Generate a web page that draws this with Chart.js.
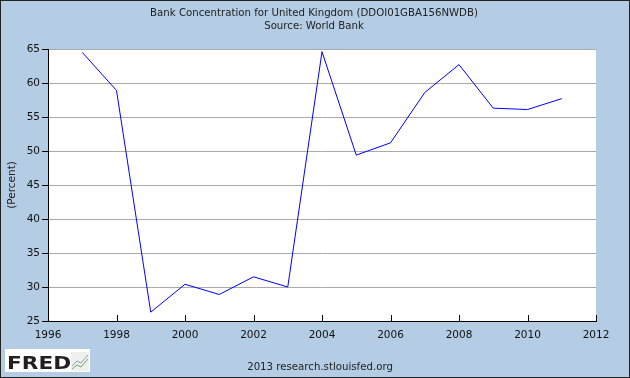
<!DOCTYPE html>
<html>
<head>
<meta charset="utf-8">
<script src="https://cdn.jsdelivr.net/npm/chart.js@4.4.0/dist/chart.umd.min.js"></script>
<style>
	html, body { margin: 0; padding: 0; background: #b4cce4; }
	#wrap { width: 630px; height: 378px; position: relative; }
</style>
</head>
<body>
<div id="wrap"><canvas id="fred"></canvas></div>
<script>
const years = [1997, 1998, 1999, 2000, 2001, 2002, 2003, 2004, 2005, 2006, 2007, 2008, 2009, 2010, 2011];
const concentration = [64.5, 58.9, 26.3, 30.4, 28.9, 31.5, 30.0, 64.6, 49.4, 51.2, 58.6, 62.7, 56.3, 56.1, 57.7];
const xTicks = [1996, 1998, 2000, 2002, 2004, 2006, 2008, 2010, 2012];
const yTicks = [25, 30, 35, 40, 45, 50, 55, 60, 65];

const titleLines = ['Bank Concentration for United Kingdom (DDOI01GBA156NWDB)', 'Source: World Bank'];
const yTitle = '(Percent)';
const footer = '2013 research.stlouisfed.org';

// background, inward x ticks, titles and the FRED badge
const decor = {
	id: 'decor',
	beforeDraw(chart) {
		const { ctx, chartArea: a } = chart;
		ctx.save();
		ctx.fillStyle = '#b4cce4';
		ctx.fillRect(0, 0, chart.width, chart.height);
		ctx.fillStyle = '#ffffff';
		ctx.fillRect(a.left, a.top, a.right - a.left, a.bottom - a.top);
		ctx.restore();
	},
	afterDraw(chart) {
		const { ctx, chartArea: a } = chart;
		const x = chart.scales.x;
		ctx.save();
		ctx.strokeStyle = '#000';
		ctx.lineWidth = 1;
		xTicks.forEach(v => {
			const px = Math.round(x.getPixelForValue(v)) + 0.5;
			ctx.beginPath();
			ctx.moveTo(px, a.bottom);
			ctx.lineTo(px, a.bottom - 6);
			ctx.stroke();
		});

		ctx.fillStyle = '#222';
		ctx.textAlign = 'center';
		ctx.textBaseline = 'middle';
		ctx.font = '10.2px "DejaVu Sans"';
		ctx.fillText(titleLines[0], 314, 13);
		ctx.fillText(titleLines[1], 314, 26);
		ctx.fillText(footer, 320, 367);

		ctx.save();
		ctx.translate(12, (a.top + a.bottom) / 2);
		ctx.rotate(-Math.PI / 2);
		ctx.font = '10.5px "DejaVu Sans"';
		ctx.fillText(yTitle, 0, 0);
		ctx.restore();

		// FRED badge
		ctx.fillStyle = '#ffffff';
		ctx.fillRect(5, 349, 85, 23);
		ctx.fillStyle = '#231f20';
		ctx.textAlign = 'left';
		ctx.textBaseline = 'alphabetic';
		ctx.save();
		ctx.translate(7, 369);
		ctx.scale(1.2, 1);
		ctx.font = 'bold 18px "DejaVu Sans"';
		ctx.fillText('FRED', 0, 0);
		ctx.restore();
		ctx.fillStyle = '#eef0ee';
		ctx.fillRect(71, 352, 18, 19);
		ctx.strokeStyle = '#7fa05a';
		ctx.beginPath();
		ctx.moveTo(72, 369); ctx.lineTo(77, 365); ctx.lineTo(81, 367); ctx.lineTo(88, 359);
		ctx.stroke();
		ctx.strokeStyle = '#8aa0b8';
		ctx.beginPath();
		ctx.moveTo(72, 366); ctx.lineTo(77, 361); ctx.lineTo(81, 363); ctx.lineTo(88, 355);
		ctx.stroke();

		ctx.strokeStyle = '#222';
		ctx.strokeRect(0.5, 0.5, chart.width - 1, chart.height - 1);
		ctx.restore();
	}
};

new Chart(document.getElementById('fred'), {
	type: 'line',
	data: {
		datasets: [{
			data: years.map((y, i) => ({ x: y, y: concentration[i] })),
			borderColor: '#0000ff',
			borderWidth: 1,
			pointRadius: 0,
			tension: 0,
			fill: false
		}]
	},
	options: {
		responsive: true,
		maintainAspectRatio: false,
		animation: false,
		layout: { padding: { top: 49, right: 34, left: 0, bottom: 0 } },
		plugins: {
			legend: { display: false },
			tooltip: { enabled: false }
		},
		scales: {
			x: {
				type: 'linear',
				min: 1996,
				max: 2012,
				afterBuildTicks: s => { s.ticks = xTicks.map(v => ({ value: v })); },
				afterFit: s => { s.height = 57; },
				grid: { display: false, drawTicks: false },
				border: { display: true, color: '#000', width: 1 },
				ticks: {
					padding: 8,
					color: '#111',
					font: { family: '"DejaVu Sans"', size: 10.5 },
					callback: v => String(v),
					maxRotation: 0
				}
			},
			y: {
				min: 25,
				max: 65,
				afterBuildTicks: s => { s.ticks = yTicks.map(v => ({ value: v })); },
				afterFit: s => { s.width = 48; },
				grid: { color: '#aaaaaa', tickColor: '#000', tickLength: 6, lineWidth: 1 },
				border: { display: true, color: '#000', width: 1 },
				ticks: {
					padding: 2,
					color: '#111',
					font: { family: '"DejaVu Sans"', size: 10.5 }
				}
			}
		}
	},
	plugins: [decor]
});
</script>
</body>
</html>
